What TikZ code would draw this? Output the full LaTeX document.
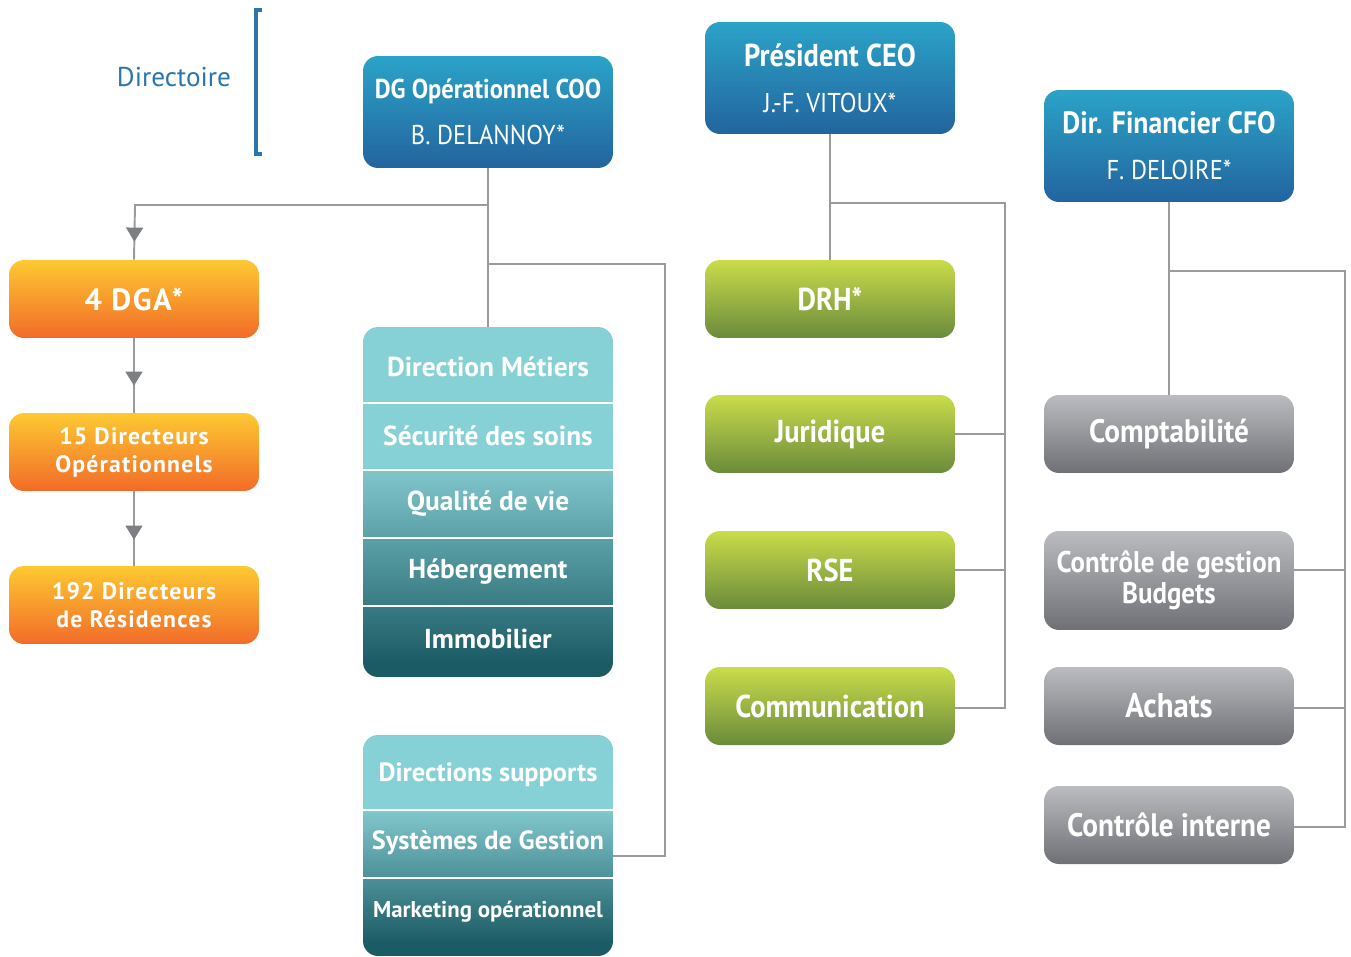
\documentclass[tikz,border=0pt]{standalone}
\usepackage{fontspec}
\setmainfont{PT Sans}
\newfontfamily\condfont[FakeStretch=0.9]{PT Sans}
\newfontfamily\widefont[LetterSpace=5]{PT Sans}
\usetikzlibrary{arrows.meta,decorations.markings}

\definecolor{bluetop}{HTML}{2BA3C8}
\definecolor{bluebot}{HTML}{22649E}
\definecolor{orangetop}{HTML}{FDC932}
\definecolor{orangebot}{HTML}{F26B28}
\definecolor{greentop}{HTML}{CADC4A}
\definecolor{greenbot}{HTML}{6A8B3C}
\definecolor{graytop}{HTML}{BBBCC0}
\definecolor{graybot}{HTML}{6F7075}
\definecolor{teallight}{HTML}{85D1D6}
\definecolor{tealpale}{HTML}{7FC6CB}
\definecolor{tealdark}{HTML}{1B5B65}
\definecolor{linegray}{HTML}{9A9B9F}
\definecolor{tipgray}{HTML}{7E7F83}
\definecolor{dirblue}{HTML}{2B76AD}

\pgfdeclareverticalshading{metshade}{100bp}{color(0bp)=(tealdark); color(27bp)=(tealdark);
  color(54.5bp)=(tealpale); color(55bp)=(teallight); color(100bp)=(teallight)}
\pgfdeclareverticalshading{supshade}{100bp}{color(0bp)=(tealdark); color(28bp)=(tealdark);
  color(57.5bp)=(tealpale); color(58bp)=(teallight); color(100bp)=(teallight)}

\tikzset{
  box/.style={rounded corners=0.3cm, minimum width=5cm, text=white, align=center, inner sep=0pt},
  bluebox/.style={box, minimum height=2.24cm, top color=bluetop, bottom color=bluebot,
    font=\condfont\bfseries\fontsize{15.5}{24}\selectfont},
  orangebox/.style={box, minimum height=1.56cm, top color=orangetop, bottom color=orangebot,
    font=\widefont\bfseries\fontsize{13.5}{16}\selectfont},
  greenbox/.style={box, minimum height=1.56cm, top color=greentop, bottom color=greenbot,
    font=\condfont\bfseries\fontsize{18}{20}\selectfont},
  graybox/.style={box, minimum height=1.56cm, top color=graytop, bottom color=graybot,
    font=\condfont\bfseries\fontsize{18.5}{18}\selectfont},
  row/.style={minimum width=5cm, minimum height=1.36cm, text=white, inner sep=0pt,
    font=\bfseries\fontsize{15.6}{16}\selectfont},
  sepline/.style={white, line width=1.2pt},
  conn/.style={draw=linegray, line width=1.1pt},
  tipat/.style={postaction={decorate}, decoration={markings,
    mark=at position #1 with {\arrow{Triangle[width=9.6pt,length=8pt,color=tipgray]}}}}
}

\begin{document}
\begin{tikzpicture}[x=0.02cm, y=-0.02cm]
  \useasboundingbox (0,0) rectangle (1351,956);

  % directoire
  \node[text=dirblue, font=\fontsize{15.5}{18}\selectfont] (dir) at (174,77) {Directoire};
  \draw[dirblue, line width=2.2pt] (262,10) -| (256,154) -- (262,154);

  % top management
  \node[bluebox] (coo) at (488,112) {DG Opérationnel COO\\[2pt]{\mdseries\fontsize{15.5}{24}\selectfont B. DELANNOY*}};
  \node[bluebox, font=\condfont\bfseries\fontsize{18}{24}\selectfont] (ceo) at (830,78) {Président CEO\\[2pt]{\mdseries\fontsize{15.5}{24}\selectfont J.-F. VITOUX*}};
  \node[bluebox, font=\condfont\bfseries\fontsize{17.5}{24}\selectfont] (cfo) at (1169,146) {Dir. Financier CFO\\[2pt]{\mdseries\fontsize{15.5}{24}\selectfont F. DELOIRE*}};

  % operations
  \node[orangebox, font=\widefont\bfseries\fontsize{17.5}{18}\selectfont] (dga) at (134,299) {4 DGA*};
  \node[orangebox] (dirop) at (134,452) {15 Directeurs\\Opérationnels};
  \node[orangebox] (dirres) at (134,605) {192 Directeurs\\de Résidences};

  % metiers
  \node[box, shade, shading=metshade, minimum height=7cm] (metbox) at (488,502) {};
  \foreach \y in {403,470,538,606}
    \draw[sepline] (363,\y) -- (613,\y);
  \node[row] (met1) at (488,367) {Direction Métiers};
  \node[row] (met2) at (488,436) {Sécurité des soins};
  \node[row] (met3) at (488,504) {Qualité de vie};
  \node[row] (met4) at (488,572) {Hébergement};
  \node[row] (met5) at (488,639) {Immobilier};

  % supports
  \node[box, shade, shading=supshade, minimum height=4.42cm] (supbox) at (488,845.5) {};
  \foreach \y in {810,878}
    \draw[sepline] (363,\y) -- (613,\y);
  \node[row, font=\bfseries\fontsize{15}{16}\selectfont] (sup1) at (488,775) {Directions supports};
  \node[row, font=\bfseries\fontsize{15}{16}\selectfont] (sys) at (488,843) {Systèmes de Gestion};
  \node[row, font=\bfseries\fontsize{13}{14}\selectfont] (mkt) at (488,912) {Marketing opérationnel};

  % ceo staff
  \node[greenbox] (drh) at (830,299) {DRH*};
  \node[greenbox] (jur) at (830,434) {Juridique};
  \node[greenbox] (rse) at (830,570) {RSE};
  \node[greenbox] (com) at (830,706) {Communication};

  % cfo staff
  \node[graybox] (compta) at (1169,434) {Comptabilité};
  \node[graybox, minimum height=1.98cm, font=\condfont\bfseries\fontsize{17}{17.6}\selectfont] (cg) at (1169,580.5) {Contrôle de gestion\\Budgets};
  \node[graybox, font=\condfont\bfseries\fontsize{19.5}{18}\selectfont] (ach) at (1169,706) {Achats};
  \node[graybox] (ci) at (1169,825) {Contrôle interne};

  % connectors
  \coordinate (cooL) at (135,205);
  \coordinate (cooR) at (488,264);
  \coordinate (ceoR) at (830,203);
  \coordinate (cfoR) at (1169,271);
  \draw[conn, tipat=-0.36cm] (coo.south) |- (cooL) -- (dga.north);
  \draw[conn, tipat=-0.54cm] (dga.south) -- (dirop.north);
  \draw[conn, tipat=-0.52cm] (dirop.south) -- (dirres.north);
  \draw[conn] (coo.south) -- (metbox.north);
  \draw[conn] (sys.east |- 0,856) -- ++(52,0) |- (cooR);

  \draw[conn] (ceo.south) -- (drh.north);
  \draw[conn] (com.east |- 0,708) -- ++(50,0) |- (ceoR);
  \draw[conn] (jur.east) -- ++(50,0);
  \draw[conn] (rse.east) -- ++(50,0);

  \draw[conn] (cfo.south) -- (compta.north);
  \draw[conn] (ci.east |- 0,827) -- ++(51,0) |- (cfoR);
  \draw[conn] (cg.east |- rse.east) -- ++(51,0);
  \draw[conn] (ach.east |- 0,708) -- ++(51,0);
\end{tikzpicture}
\end{document}
